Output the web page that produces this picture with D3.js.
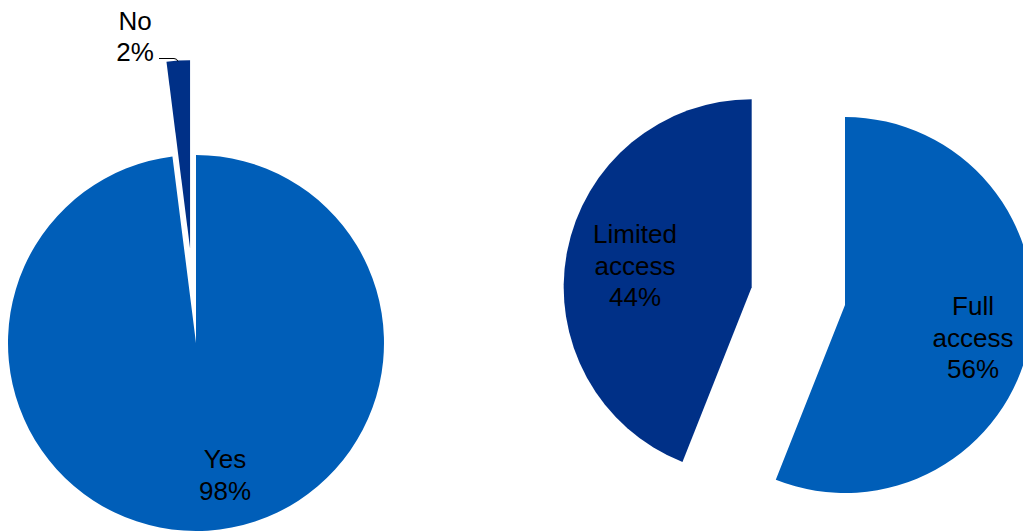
<!DOCTYPE html>
<html>
<head>
<meta charset="utf-8">
<script src="https://cdn.jsdelivr.net/npm/d3@7"></script>
<style>
  html, body { margin: 0; padding: 0; background: #fff; overflow: hidden; }
  svg { display: block; font-family: "Liberation Sans", Arial, sans-serif; }
</style>
</head>
<body>
<svg id="chart" width="1023" height="532"></svg>
<script>
// Data
const pie1Labels = ["Yes", "No"];
const pie1Values = [98, 2];
const pie1Exploded = [false, true];

const pie2Labels = ["Full access", "Limited access"];
const pie2Values = [56, 44];
const pie2Exploded = [false, true];

const colors = ["#005EB8", "#003087"];

const svg = d3.select("#chart");
const R = 188;
const explode = 95;

function drawPie(cx, cy, labels, values, exploded, labelPos) {
  const g = svg.append("g").attr("transform", `translate(${cx},${cy})`);
  const pie = d3.pie().sort(null).startAngle(0).endAngle(2 * Math.PI);
  const arc = d3.arc().innerRadius(0).outerRadius(R);
  const arcs = pie(values);
  arcs.forEach((a, i) => {
    const mid = (a.startAngle + a.endAngle) / 2;
    const off = exploded[i] ? explode : 0;
    const dx = off * Math.sin(mid), dy = -off * Math.cos(mid);
    g.append("path")
      .attr("d", arc(a))
      .attr("transform", `translate(${dx},${dy})`)
      .attr("fill", colors[i % colors.length]);
  });
  arcs.forEach((a, i) => {
    const p = labelPos[i];
    const words = labels[i].split(" ");
    const lines = words.concat([values[i] + "%"]);
    const t = g.append("text")
      .attr("text-anchor", "middle")
      .attr("font-size", 26)
      .attr("fill", "#000");
    lines.forEach((ln, k) => {
      t.append("tspan").attr("x", p[0]).attr("y", p[1] + k * 31.5).text(ln);
    });
  });
  return g;
}

// Left pie
const g1 = drawPie(196, 343, pie1Labels, pie1Values, pie1Exploded,
  [[29, 125], [-61, -313.5]]);
// leader line for "No"
g1.append("path")
  .attr("d", "M-37,-284.5 L-22,-284.5 Q-19,-284.5 -18,-281.5")
  .attr("fill", "none").attr("stroke", "#000").attr("stroke-width", 1);

// Right pie
drawPie(845, 305, pie2Labels, pie2Values, pie2Exploded,
  [[128, 10], [-210, -62]]);
</script>
</body>
</html>
